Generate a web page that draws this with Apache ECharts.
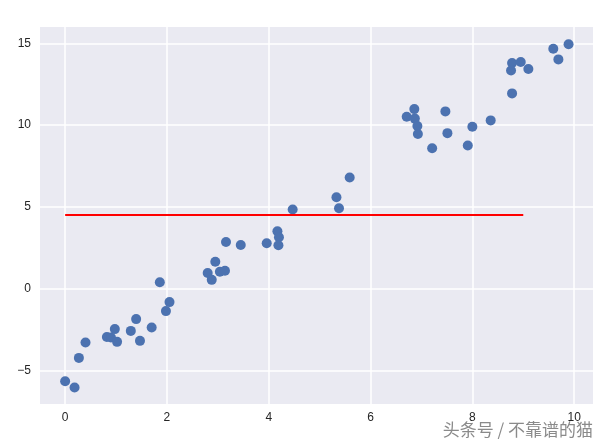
<!DOCTYPE html>
<html><head><meta charset="utf-8">
<script src="https://cdn.jsdelivr.net/npm/echarts@6/dist/echarts.min.js"></script>
<style>html,body{margin:0;padding:0;background:#fff}#c{width:606px;height:445px}</style>
</head><body><div id="c"></div>
<script>
const xValues = [0.00,0.185,0.27,0.40,0.82,0.90,0.976,1.02,1.29,1.395,1.47,1.70,1.86,1.98,2.05,
  2.80,2.88,2.95,3.04,3.14,3.16,3.45,3.96,4.17,4.20,4.19,4.47,
  5.33,5.38,5.59,6.71,6.86,6.87,6.92,6.93,7.21,7.47,7.51,7.91,8.00,8.36,8.78,8.78,8.76,8.95,9.10,9.59,9.69,9.89];
const yValues = [-5.66,-6.04,-4.23,-3.29,-2.95,-2.98,-2.47,-3.25,-2.58,-1.86,-3.19,-2.37,0.39,-1.37,-0.82,
  0.96,0.54,1.65,1.04,1.10,2.85,2.67,2.78,3.51,3.14,2.66,4.84,
  5.59,4.92,6.80,10.51,10.98,10.40,9.95,9.46,8.59,10.84,9.51,8.76,9.90,10.29,11.94,13.80,13.34,13.86,13.43,14.67,14.02,14.94];
const lineX = [0, 9];
const lineY = [4.5, 4.5];
const xTicks = [0, 2, 4, 6, 8, 10];
const yTicks = [-5, 0, 5, 10, 15];

const points = xValues.map((x, i) => [x, yValues[i]]);
const linePts = lineX.map((x, i) => [x, lineY[i]]);
const font = 'Liberation Sans, Arial, sans-serif';
const fmt = v => String(v).replace('-', '\u2212');
const chart = echarts.init(document.getElementById('c'), null, {renderer: 'canvas'});
chart.setOption({
  animation: false,
  backgroundColor: '#ffffff',
  grid: {left: 40, right: 13, top: 27, bottom: 41, show: true, backgroundColor: '#EAEAF2', borderWidth: 0},
  xAxis: {
    type: 'value', min: -0.494, max: 10.37,
    axisLine: {show: false}, axisTick: {show: false, customValues: xTicks},
    axisLabel: {customValues: xTicks, formatter: fmt, color: '#262626', fontSize: 12, fontFamily: font, margin: 8},
    splitLine: {show: true, lineStyle: {color: '#ffffff', width: 1.5}}
  },
  yAxis: {
    type: 'value', min: -7.05, max: 16.0,
    axisLine: {show: false}, axisTick: {show: false, customValues: yTicks},
    axisLabel: {customValues: yTicks, formatter: fmt, color: '#262626', fontSize: 12, fontFamily: font, margin: 9},
    splitLine: {show: true, lineStyle: {color: '#ffffff', width: 1.5}}
  },
  series: [
    {type: 'scatter', data: points, symbolSize: 10, itemStyle: {color: '#4C72B0', opacity: 1}},
    {type: 'line', data: linePts, showSymbol: false, symbol: 'none', lineStyle: {color: '#ff0000', width: 2}}
  ],
  graphic: [{
    type: 'text', right: 12, bottom: 6,
    style: {text: '头条号 / 不靠谱的猫', fill: '#8a8a8a', stroke: '#ffffff', lineWidth: 2, fontSize: 17, fontFamily: 'Noto Sans CJK SC, sans-serif'}
  }]
});
</script></body></html>
